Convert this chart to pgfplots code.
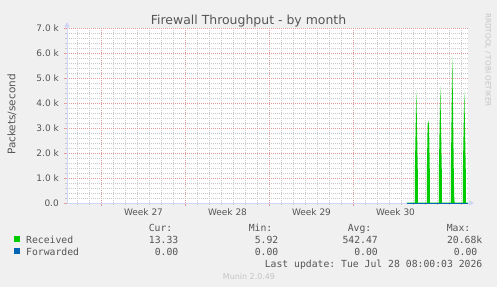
\documentclass[border=0pt]{standalone}
\usepackage{pgfplots}
\pgfplotsset{compat=1.18}
\usepackage{fontspec}
\setmainfont{DejaVu Sans}
\setmonofont{DejaVu Sans Mono}
\usetikzlibrary{arrows.meta}
\definecolor{bg}{HTML}{F0F0F0}
\definecolor{fontc}{HTML}{555555}
\definecolor{axiscol}{HTML}{CFD6F8}
\definecolor{mgrid}{HTML}{E59A9A}
\definecolor{gridc}{HTML}{C8C8C8}
\definecolor{recv}{HTML}{00CC00}
\definecolor{fwd}{HTML}{0066B3}
\definecolor{faint}{HTML}{C4C4C4}
\begin{document}
\begin{tikzpicture}[x=1bp,y=1bp]
\fill[bg] (0,0) rectangle (497,287);
\path[use as bounding box] (0,0) rectangle (497,287);
\begin{axis}[
  at={(67bp,84bp)}, anchor=south west,
  scale only axis, width=401bp, height=175bp,
  xmin=0, xmax=33.4167, ymin=0, ymax=7000,
  axis lines=left,
  axis line style={draw=axiscol, line width=1bp, -{Triangle[length=5bp,width=5bp]}, shorten >=-6bp},
  axis background/.style={fill=white},
  xtick={2.875,9.875,16.875,23.875},
  xticklabels={,,,},
  minor xtick={0.875,1.875,...,33.875},
  extra x ticks={6.375,13.375,20.375,27.375},
  extra x tick labels={Week 27,Week 28,Week 29,Week 30},
  extra x tick style={grid=none, major tick length=0pt},
  ytick={0,1000,...,7000},
  yticklabels={0.0,1.0 k,2.0 k,3.0 k,4.0 k,5.0 k,6.0 k,7.0 k},
  minor y tick num=4,
  grid=both,
  major grid style={draw=mgrid, line width=0.7bp, dash pattern=on 1bp off 1bp},
  minor grid style={draw=gridc, line width=0.7bp, dash pattern=on 1bp off 1bp},
  tick align=outside,
  major tick length=3bp, minor tick length=2bp,
  every major tick/.append style={draw=mgrid, line width=0.7bp},
  every minor tick/.append style={draw=gridc, line width=0.7bp},
  tick label style={font=\fontsize{9}{10}\selectfont, text=fontc},
  yticklabel style={anchor=east, inner sep=0pt, xshift=-5bp},
  xticklabel style={anchor=north, inner sep=0pt, yshift=-5bp},
  scaled y ticks=false,
  clip=false,
]
\addplot[fill=recv, draw=none] coordinates {
  (28.33,13) (28.98,13)
  (28.99,1300) (29.11,4500) (29.23,1300)
  (29.24,13) (29.98,13)
  (29.99,1300) (30.05,3100) (30.11,3300) (30.17,3100) (30.23,1300)
  (30.24,13) (30.98,13)
  (30.99,1300) (31.11,4700) (31.23,1300)
  (31.24,13) (31.98,13)
  (31.99,1300) (32.11,5900) (32.23,1300) (32.26,300)
  (32.30,13) (32.98,13)
  (32.99,1300) (33.11,4500) (33.23,1300)
  (33.24,13) (33.4167,13)
} \closedcycle;
\addplot[draw=fwd, line width=1bp] coordinates {(28.33,0) (33.4167,0)};
\end{axis}
\node[anchor=base, font=\fontsize{12.5}{14}\selectfont, text=fontc] at (248.5,263) {Firewall Throughput - by month};
\node[rotate=90, font=\fontsize{10.5}{12}\selectfont, text=fontc] at (12,172.5) {Packets/second};
\node[rotate=-90, anchor=west, font=\fontsize{7.3}{8}\selectfont, text=faint, inner sep=0pt] at (488,274) {RRDTOOL / TOBI OETIKER};
% legend
\begin{scope}[every node/.style={inner sep=0pt, font=\ttfamily\fontsize{9.8}{11}\selectfont, text=fontc}]
\node[anchor=base east] at (172.5,56) {Cur:};
\node[anchor=base east] at (272.5,56) {Min:};
\node[anchor=base east] at (371.5,56) {Avg:};
\node[anchor=base east] at (470.5,56) {Max:};
\fill[recv] (14,45) rectangle (20,51);
\node[anchor=base west] at (26,44) {Received};
\node[anchor=base east] at (178.5,44) {13.33};
\node[anchor=base east] at (278.5,44) {5.92};
\node[anchor=base east] at (378,44) {542.47};
\node[anchor=base east] at (482.5,44) {20.68k};
\fill[fwd] (14,33) rectangle (20,39);
\node[anchor=base west] at (26,31.5) {Forwarded};
\node[anchor=base east] at (178.5,31.5) {0.00};
\node[anchor=base east] at (278.5,31.5) {0.00};
\node[anchor=base east] at (378,31.5) {0.00};
\node[anchor=base east] at (477.5,31.5) {0.00};
\node[anchor=base east] at (482.5,20) {Last update: Tue Jul 28 08:00:03 2026};
\end{scope}
\node[anchor=base, inner sep=0pt, font=\fontsize{8}{9}\selectfont, text=faint] at (249,8) {Munin 2.0.49};
\end{tikzpicture}
\end{document}
